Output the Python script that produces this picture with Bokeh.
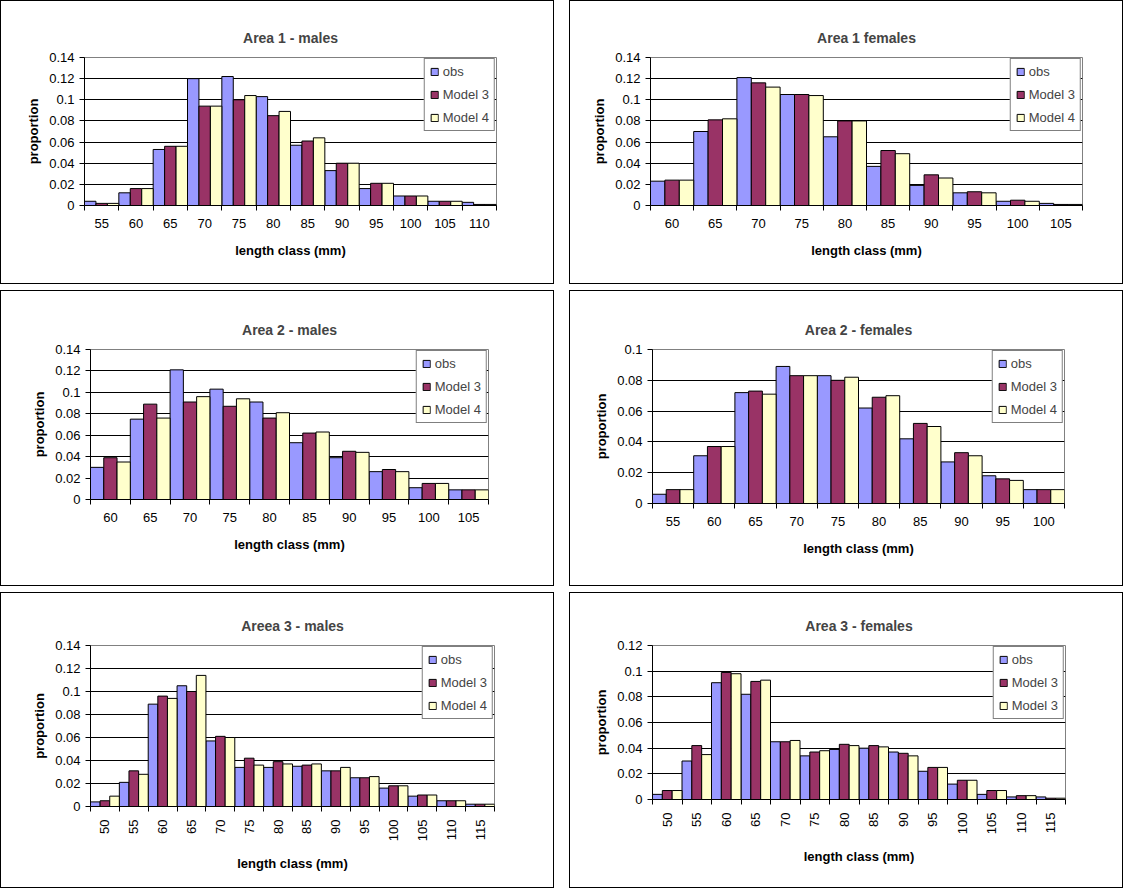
import math
from bokeh.plotting import figure
from bokeh.layouts import row, column
from bokeh.models import FixedTicker, Legend, LegendItem
from bokeh.embed import file_html
from bokeh.resources import INLINE

# length classes per panel
a1m_cls = [55, 60, 65, 70, 75, 80, 85, 90, 95, 100, 105, 110]
a1m_obs = [0.004, 0.012, 0.053, 0.120, 0.122, 0.103, 0.057, 0.033, 0.016, 0.009, 0.004, 0.003]
a1m_m3 = [0.002, 0.016, 0.056, 0.094, 0.100, 0.085, 0.061, 0.040, 0.021, 0.009, 0.004, 0.001]
a1m_m4 = [0.002, 0.016, 0.056, 0.094, 0.104, 0.089, 0.064, 0.040, 0.021, 0.009, 0.004, 0.001]

a1f_cls = [60, 65, 70, 75, 80, 85, 90, 95, 100, 105]
a1f_obs = [0.023, 0.070, 0.121, 0.105, 0.065, 0.037, 0.019, 0.012, 0.004, 0.002]
a1f_m3 = [0.024, 0.081, 0.116, 0.105, 0.080, 0.052, 0.029, 0.013, 0.005, 0.001]
a1f_m4 = [0.024, 0.082, 0.112, 0.104, 0.080, 0.049, 0.026, 0.012, 0.004, 0.001]

a2m_cls = [60, 65, 70, 75, 80, 85, 90, 95, 100, 105]
a2m_obs = [0.030, 0.075, 0.121, 0.103, 0.091, 0.053, 0.039, 0.026, 0.011, 0.009]
a2m_m3 = [0.039, 0.089, 0.091, 0.087, 0.076, 0.062, 0.045, 0.028, 0.015, 0.009]
a2m_m4 = [0.035, 0.076, 0.096, 0.094, 0.081, 0.063, 0.044, 0.026, 0.015, 0.009]

a2f_cls = [55, 60, 65, 70, 75, 80, 85, 90, 95, 100]
a2f_obs = [0.006, 0.031, 0.072, 0.089, 0.083, 0.062, 0.042, 0.027, 0.018, 0.009]
a2f_m3 = [0.009, 0.037, 0.073, 0.083, 0.080, 0.069, 0.052, 0.033, 0.016, 0.009]
a2f_m4 = [0.009, 0.037, 0.071, 0.083, 0.082, 0.070, 0.050, 0.031, 0.015, 0.009]

a3m_cls = [50, 55, 60, 65, 70, 75, 80, 85, 90, 95, 100, 105, 110, 115]
a3m_obs = [0.004, 0.021, 0.089, 0.105, 0.057, 0.034, 0.034, 0.035, 0.031, 0.025, 0.016, 0.009, 0.005, 0.002]
a3m_m3 = [0.005, 0.031, 0.096, 0.100, 0.061, 0.042, 0.039, 0.036, 0.031, 0.025, 0.018, 0.010, 0.005, 0.002]
a3m_m4 = [0.009, 0.028, 0.094, 0.114, 0.060, 0.036, 0.037, 0.037, 0.034, 0.026, 0.018, 0.010, 0.005, 0.002]

a3f_cls = [50, 55, 60, 65, 70, 75, 80, 85, 90, 95, 100, 105, 110, 115]
a3f_obs = [0.004, 0.030, 0.091, 0.082, 0.045, 0.034, 0.039, 0.040, 0.037, 0.022, 0.012, 0.004, 0.002, 0.002]
a3f_m3 = [0.007, 0.042, 0.099, 0.092, 0.045, 0.037, 0.043, 0.042, 0.036, 0.025, 0.015, 0.007, 0.003, 0.001]
a3f_m4 = [0.007, 0.035, 0.098, 0.093, 0.046, 0.038, 0.042, 0.041, 0.034, 0.025, 0.015, 0.007, 0.003, 0.001]

y_ticks_14 = [0, 0.02, 0.04, 0.06, 0.08, 0.1, 0.12, 0.14]
y_ticks_10 = [0, 0.02, 0.04, 0.06, 0.08, 0.1]
y_ticks_12 = [0, 0.02, 0.04, 0.06, 0.08, 0.1, 0.12]

COLORS = ["#9999FF", "#993366", "#FFFFCC"]
FONT = "Liberation Sans"


def panel(title, cls, series, names, yticks, rotate, fw, fh, left, top, bottom):
    n = len(cls)
    p = figure(
        output_backend="svg", toolbar_location=None,
        frame_width=fw, frame_height=fh,
        min_border_left=left, min_border_right=552 - left - fw,
        min_border_top=top, min_border_bottom=bottom,
        x_range=(-0.5, n - 0.5), y_range=(0, yticks[-1]),
        title=title,
    )
    p.styles = {"border": "1.5px solid black"}
    p.background_fill_color = "white"
    p.outline_line_color = "#808080"
    p.title.align = "center"
    p.title.text_font = FONT
    p.title.text_font_size = "14px"
    p.title.text_font_style = "bold"
    p.title.standoff = 24
    xs = list(range(n))
    renderers = []
    for k, (vals, c) in enumerate(zip(series, COLORS)):
        r = p.vbar(x=[x + (k - 1) / 3 for x in xs], top=vals, width=1 / 3,
                   fill_color=c, line_color="black", line_width=1)
        renderers.append(r)
    p.xaxis.ticker = FixedTicker(ticks=xs, minor_ticks=[x - 0.5 for x in range(n + 1)])
    p.xaxis.major_label_overrides = {x: str(c) for x, c in zip(xs, cls)}
    p.xaxis.major_tick_out = 0
    p.xaxis.major_tick_in = 0
    p.xaxis.minor_tick_out = 5
    p.xaxis.minor_tick_in = 0
    if rotate:
        p.xaxis.major_label_orientation = math.pi / 2
    p.yaxis.ticker = FixedTicker(ticks=yticks)
    p.yaxis.major_label_overrides = {t: ("0" if t == 0 else ("%g" % t)) for t in yticks}
    p.yaxis.major_tick_in = 0
    p.yaxis.major_tick_out = 5
    for ax in (p.xaxis[0], p.yaxis[0]):
        ax.axis_line_color = "black"
        ax.major_tick_line_color = "black"
        ax.minor_tick_line_color = "black" if ax is p.xaxis[0] else None
        ax.major_label_text_font = FONT
        ax.major_label_text_font_size = "13px"
        ax.major_label_text_color = "black"
        ax.axis_label_text_font = FONT
        ax.axis_label_text_font_size = "13px"
        ax.axis_label_text_font_style = "bold"
        ax.axis_label_text_color = "black"
    p.xaxis.axis_label = "length class (mm)"
    p.yaxis.axis_label = "proportion"
    p.xaxis.major_label_standoff = 8
    p.xaxis.axis_label_standoff = 12
    p.xgrid.grid_line_color = None
    p.ygrid.ticker = FixedTicker(ticks=yticks)
    p.ygrid.grid_line_color = "black"
    p.ygrid.grid_line_alpha = 1
    legend = Legend(
        items=[LegendItem(label=nm, renderers=[r]) for nm, r in zip(names, renderers)],
        location="top_right",
        border_line_color="black", border_line_width=1,
        background_fill_alpha=1,
        label_text_font=FONT, label_text_font_size="13px",
        glyph_width=9, glyph_height=9, label_standoff=4,
        spacing=8, padding=5, margin=1,
    )
    p.add_layout(legend)
    return p


names34 = ["obs", "Model 3", "Model 4"]
p1 = panel("Area 1 - males", a1m_cls, [a1m_obs, a1m_m3, a1m_m4], names34, y_ticks_14, False, 410, 146, 83, 56, 80)
p2 = panel("Area 1 females", a1f_cls, [a1f_obs, a1f_m3, a1f_m4], names34, y_ticks_14, False, 430, 146, 80, 56, 80)
p3 = panel("Area 2 - males", a2m_cls, [a2m_obs, a2m_m3, a2m_m4], names34, y_ticks_14, False, 396, 148, 89, 58, 88)
p4 = panel("Area 2 - females", a2f_cls, [a2f_obs, a2f_m3, a2f_m4], names34, y_ticks_10, False, 410, 152, 82, 56, 86)
p5 = panel("Areea 3 - males", a3m_cls, [a3m_obs, a3m_m3, a3m_m4], names34, y_ticks_14, True, 402, 159, 89, 52, 83)
p6 = panel("Area 3 - females", a3f_cls, [a3f_obs, a3f_m3, a3f_m4], ["obs", "Model 3", "Model 3"], y_ticks_12, True, 411, 152, 82, 52, 90)

layout = column(
    row(p1, p2, spacing=15),
    row(p3, p4, spacing=15),
    row(p5, p6, spacing=15),
    spacing=6,
)

open("out.html", "w").write(file_html(layout, INLINE))
